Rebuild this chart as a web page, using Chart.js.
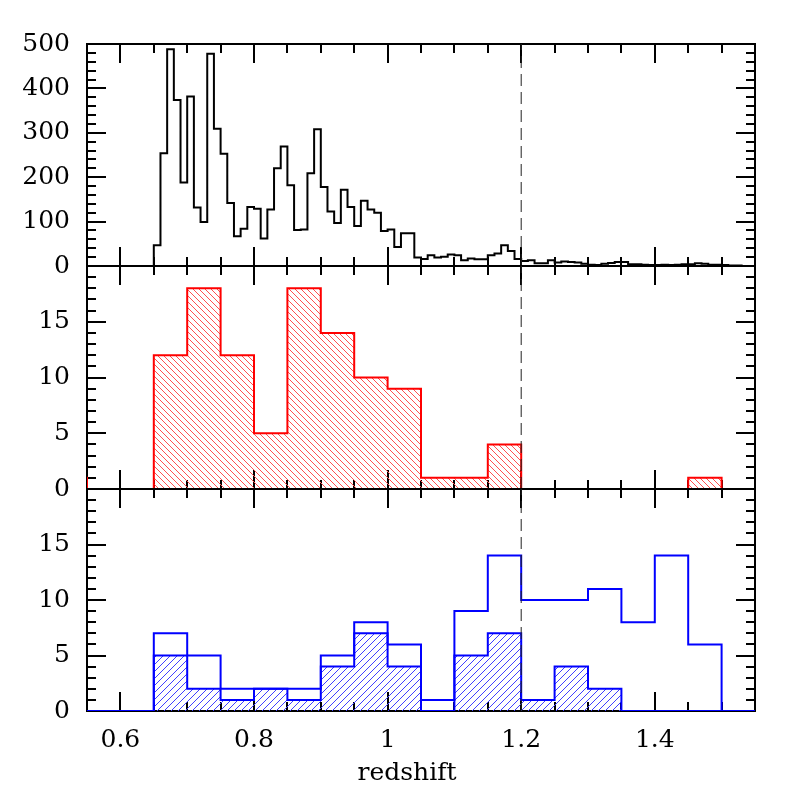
<!DOCTYPE html>
<html>
<head>
<meta charset="utf-8">
<script src="https://cdn.jsdelivr.net/npm/chart.js@4.4.1/dist/chart.umd.min.js"></script>
<style>
body { margin: 0; background: #fff; }
#wrap { position: relative; width: 797px; height: 797px; }
#wrap canvas { position: absolute; left: 0; top: 0; }
</style>
</head>
<body>
<div id="wrap"></div>
<script>
// x range and the dashed divider
const X_MIN = 0.55, X_MAX = 1.55;
const DIVIDER_Z = 1.2;
const X_TITLE = 'redshift';

// top panel: whole sample, 0.01 bins from 0.55
const allStart = 0.55, allWidth = 0.01;
const allCounts = [
    0, 0, 0, 0, 0, 0, 0, 0, 0, 0,
    47, 254, 488, 374, 188, 382, 132, 99, 478, 309,
    253, 142, 67, 84, 133, 129, 62, 127, 220, 269,
    182, 81, 82, 209, 308, 178, 123, 97, 172, 133,
    90, 147, 127, 120, 79, 82, 43, 74, 74, 19,
    16, 24, 19, 21, 26, 24, 13, 17, 15, 15,
    24, 28, 47, 34, 16, 11, 13, 6, 6, 13,
    8, 10, 9, 8, 5, 3, 2, 5, 7, 9,
    9, 4, 4, 3, 2, 2, 3, 2, 3, 4,
    4, 6, 5, 3, 3, 2, 1, 1, 0, 0
];

// middle panel: red hatched, 0.05 bins from 0.50
const redStart = 0.50, redWidth = 0.05;
const redCounts = [1, 0, 0, 12, 18, 12, 5, 18, 14, 10, 9, 1, 1, 4, 0, 0, 0, 0, 0, 1, 0];

// bottom panel: blue open + blue hatched, 0.05 bins from 0.55
const blueStart = 0.55, blueWidth = 0.05;
const blueTotal   = [0, 0, 7, 5, 2, 2, 2, 5, 8, 6, 1, 9, 14, 10, 10, 11, 8, 14, 6, 0];
const blueHatched = [0, 0, 5, 2, 1, 2, 1, 4, 7, 4, 0, 5, 7, 1, 4, 2, 0, 0, 0, 0];

// tick labels
const xTickLabels = [0.6, 0.8, 1, 1.2, 1.4];
const topYLabels = [0, 100, 200, 300, 400, 500];
const lowYLabels = [0, 5, 10, 15];

Chart.defaults.font.family = "'DejaVu Serif', serif";
Chart.defaults.font.size = 25;
Chart.defaults.color = '#000';

function stepPoints(start, width, counts) {
    let pts = counts.map((c, i) => ({x: start + i * width, y: c}));
    pts.push({x: start + counts.length * width, y: counts[counts.length - 1]});
    return pts;
}

function hatch(color, size, dir) {
    let c = document.createElement('canvas');
    c.width = size;
    c.height = size;
    let g = c.getContext('2d');
    g.strokeStyle = color;
    g.lineWidth = 1;
    g.beginPath();
    if (dir > 0) {
        // "/"
        g.moveTo(0, size); g.lineTo(size, 0);
        g.moveTo(-1, 1); g.lineTo(1, -1);
        g.moveTo(size - 1, size + 1); g.lineTo(size + 1, size - 1);
    } else {
        // "\"
        g.moveTo(0, 0); g.lineTo(size, size);
        g.moveTo(-1, size - 1); g.lineTo(1, size + 1);
        g.moveTo(size - 1, -1); g.lineTo(size + 1, 1);
    }
    g.stroke();
    return g.createPattern(c, 'repeat');
}

function histLine(points, color, fillPattern) {
    return {
        data: points,
        borderColor: color,
        borderWidth: 2,
        backgroundColor: fillPattern || 'transparent',
        fill: fillPattern ? 'origin' : false,
        stepped: 'before',
        pointRadius: 0
    };
}

function dividerLine(yMax) {
    return {
        data: [{x: DIVIDER_Z, y: 0}, {x: DIVIDER_Z, y: yMax}],
        borderColor: '#222',
        borderWidth: 1,
        borderDash: [12, 6],
        pointRadius: 0,
        fill: false
    };
}

function near(a, b) {
    return Math.abs(a - b) < 1e-6;
}

let panels = [
    {
        top: 44, bottom: 266, yMax: 500, yStep: 20, yMajor: 100, yLabels: topYLabels, showX: false,
        datasets: [dividerLine(500), histLine(stepPoints(allStart, allWidth, allCounts), '#000')]
    },
    {
        top: 266, bottom: 489, yMax: 20, yStep: 1, yMajor: 5, yLabels: lowYLabels, showX: false,
        datasets: [dividerLine(20), histLine(stepPoints(redStart, redWidth, redCounts), '#ff0000', hatch('rgb(255,80,80)', 6, -1))]
    },
    {
        top: 489, bottom: 711, yMax: 20, yStep: 1, yMajor: 5, yLabels: lowYLabels, showX: true,
        datasets: [
            dividerLine(20),
            histLine(stepPoints(blueStart, blueWidth, blueTotal), '#0000ff'),
            histLine(stepPoints(blueStart, blueWidth, blueHatched), '#0000ff', hatch('#4040ff', 7, 1))
        ]
    }
];

function framePlugin(p) {
    return {
        id: 'frame',
        beforeDatasetsDraw(chart) {
            let ctx = chart.ctx;
            let a = chart.chartArea;
            let x = chart.scales.x;
            let y = chart.scales.y;
            ctx.save();
            ctx.strokeStyle = '#000';
            ctx.lineWidth = 2;
            ctx.strokeRect(a.left, a.top, a.right - a.left, a.bottom - a.top);
            ctx.beginPath();
            let nx = Math.round((X_MAX - X_MIN) / 0.05);
            for (let i = 0; i <= nx; i++) {
                let v = X_MIN + i * 0.05;
                let px = Math.round(x.getPixelForValue(v));
                let len = near(v / 0.2, Math.round(v / 0.2)) ? 19 : 9;
                ctx.moveTo(px, a.bottom); ctx.lineTo(px, a.bottom - len);
                ctx.moveTo(px, a.top); ctx.lineTo(px, a.top + len);
            }
            let ny = Math.round(p.yMax / p.yStep);
            for (let i = 0; i <= ny; i++) {
                let v = i * p.yStep;
                let py = Math.round(y.getPixelForValue(v));
                let len = v % p.yMajor === 0 ? 19 : 9;
                ctx.moveTo(a.left, py); ctx.lineTo(a.left + len, py);
                ctx.moveTo(a.right, py); ctx.lineTo(a.right - len, py);
            }
            ctx.stroke();
            ctx.restore();
        },
        afterDraw(chart) {
            if (!p.showX) return;
            // axis title sits a little left of the plot centre in the original
            let ctx = chart.ctx;
            ctx.save();
            ctx.font = "25px 'DejaVu Serif', serif";
            ctx.fillStyle = '#000';
            ctx.textAlign = 'center';
            ctx.textBaseline = 'middle';
            ctx.fillText(X_TITLE, 407, 773);
            ctx.restore();
        }
    };
}

let wrap = document.getElementById('wrap');

for (let p of panels) {
    let canvas = document.createElement('canvas');
    canvas.width = 797;
    canvas.height = 797;
    wrap.appendChild(canvas);

    let xScale = {
        type: 'linear',
        min: X_MIN,
        max: X_MAX,
        display: p.showX,
        grid: {display: false, drawTicks: false},
        border: {display: false},
        ticks: {
            stepSize: 0.05,
            autoSkip: false,
            maxRotation: 0,
            padding: 14,
            callback: v => xTickLabels.some(t => near(t, v)) ? String(Math.round(v * 10) / 10) : ''
        },
        title: {display: false}
    };
    if (p.showX) {
        xScale.afterFit = s => { s.height = 797 - p.bottom; };
    }

    new Chart(canvas.getContext('2d'), {
        type: 'line',
        data: {datasets: p.datasets},
        options: {
            responsive: false,
            animation: false,
            events: [],
            layout: {padding: {top: p.top, bottom: p.showX ? 0 : 797 - p.bottom, left: 0, right: 42}},
            plugins: {legend: {display: false}, tooltip: {enabled: false}},
            scales: {
                x: xScale,
                y: {
                    type: 'linear',
                    min: 0,
                    max: p.yMax,
                    grid: {display: false, drawTicks: false},
                    border: {display: false},
                    ticks: {
                        stepSize: p.yStep,
                        autoSkip: false,
                        padding: 17,
                        callback: v => (near(v, Math.round(v)) && p.yLabels.includes(Math.round(v))) ? String(Math.round(v)) : ''
                    },
                    afterFit: s => { s.width = 87; }
                }
            }
        },
        plugins: [framePlugin(p)]
    });
}
</script>
</body>
</html>
